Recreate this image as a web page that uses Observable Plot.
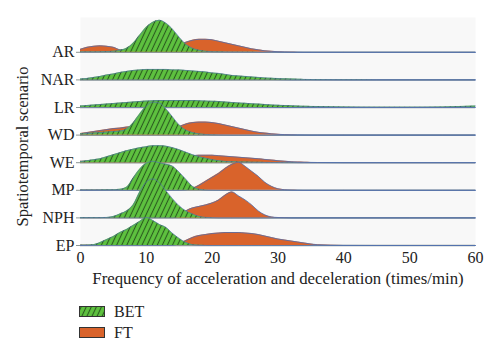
<!DOCTYPE html>
<html><head><meta charset="utf-8">
<script src="https://cdn.jsdelivr.net/npm/d3@7"></script>
<script src="https://cdn.jsdelivr.net/npm/@observablehq/plot@0.6"></script>
<style>
body{margin:0;background:#fff;font-family:"Liberation Serif",serif;}
#legend{margin-left:79px;padding-top:11px;font-size:16px;color:#222}
.item{display:flex;align-items:center;height:21px}
.item svg{margin-right:9px}
</style></head><body>
<div id="chart"></div>
<div id="legend"></div>
<script>
const scenarios = ["AR","NAR","LR","WD","WE","MP","NPH","EP"];
const seriesNames = ["BET","FT"];
const xTicks = [0,10,20,30,40,50,60];
const xTitle = "Frequency of acceleration and deceleration (times/min)";
const yTitle = "Spatiotemporal scenario";
// x sample points (times/min)
const xGrid = [0,1,2,3,4,5,6,7,8,9,10,11,12,13,14,15,16,17,18,19,20,21,22,23,24,25,26,27,28,29,30,31,32,33,34,35,36,40,45,50,55,60];

// Density estimates (relative units)
const betAR  = [0.5,0.5,0.5,0.6,0.8,1,2,4,9,17,25,30,32,29,23,15,8,4,2,1,0.6,0.5,0.4,0.3,0.3,0.2,0.2,0.1,0.1,0.1,0,0,0,0,0,0,0,0,0,0,0,0];
const ftAR   = [3,5,6,6.5,6,5,2.5,2,2,2,2,2,2.5,3,4.5,7,10,12,13,13,12.5,11,9.5,8,6.5,5,3.5,2.5,1.5,1,0.6,0.4,0.2,0.1,0,0,0,0,0,0,0,0];
const betNAR = [1,1.5,2.5,3.5,5,6,7.5,8.5,9.5,10,10.5,10.5,10.5,10.5,10,10,9.5,9,8.5,8,7,6.5,5.5,4.5,4,3.5,3,2.5,2,1.7,1.4,1.1,0.9,0.7,0.5,0.4,0.3,0.1,0,0,0,0];
const ftNAR  = [0.3,0.3,0.3,0.3,0.3,0.3,0.3,0.3,0.3,0.3,0.3,0.3,0.3,0.3,0.3,0.3,0.3,0.3,0.3,0.3,0.3,0.3,0.3,0.3,0.3,0.3,0.3,0.3,0.3,0.3,0.2,0.1,0,0,0,0,0,0,0,0,0,0];
const betLR  = [1.5,2,2.5,3,3.5,4,4.5,5,5.5,6,6.5,6.8,7,7,7,7,7,7,6.8,6.5,6.2,6,5.5,5,4.6,4.2,3.8,3.4,3,2.6,2.3,2,1.8,1.5,1.2,1.1,1,0.5,0.3,0.3,0.5,1.5];
const ftLR   = [0.5,0.5,0.5,0.5,0.5,0.5,0.5,0.5,0.5,0.5,0.5,0.5,0.5,0.5,0.5,0.5,0.5,0.5,0.5,0.5,0.5,0.5,0.5,0.5,0.5,0.5,0.5,0.4,0.3,0.2,0.1,0,0,0,0,0,0,0,0,0,0,0];
const betWD  = [1,1.5,2,2.5,3,3.5,4,6,12,21,29,33,32,26,18,10,5,2.5,1.2,0.6,0.3,0.2,0.1,0,0,0,0,0,0,0,0,0,0,0,0,0,0,0,0,0,0,0];
const ftWD   = [1.5,2.5,3.5,4.5,5.5,6.5,7,8,8.5,8,7,6,5,5,6,8.5,11,12.5,13,13,12.5,11.5,10,8.5,7,5.5,4,2.8,2,1.3,0.8,0.5,0.3,0.2,0.1,0,0,0,0,0,0,0];
const betWE  = [1,2,3,4,6,8,10,12,13.5,15,16,17,17,16.5,15,13,10.5,8,6,4.5,3,2,1.3,1,0.8,0.6,0.5,0.4,0.3,0.2,0.2,0.1,0.1,0,0,0,0,0,0,0,0,0];
const ftWE   = [1.5,1.5,1.5,1.5,1.5,1.5,1.5,1.5,1.5,1.5,1.5,1.5,1.5,3,4,5,6,7,7.5,7.5,7.5,7,6.5,6,5.5,5,4.5,4,3.3,2.7,2,1.5,1,0.7,0.5,0.3,0.2,0,0,0,0,0];
const betMP  = [0.3,0.3,0.3,0.4,0.5,0.6,1,3,12,21,27,29,27.5,26,24,18,11,4,1,0.3,0.1,0,0,0,0,0,0,0,0,0,0,0,0,0,0,0,0,0,0,0,0,0];
const ftMP   = [0.2,0.2,0.2,0.2,0.2,0.2,0.2,0.2,0.2,0.2,0.2,0.2,0.2,0.2,0.2,0.2,0.5,2,5,9,13,17,22,26,28,24,19,14,8,4,1.5,0.6,0.3,0.1,0,0,0,0,0,0,0,0];
const betNPH = [0.3,0.3,0.3,0.3,0.5,1.5,4,7,13,26,36,39,35,27,19,12,7,4,1.5,0.5,0.2,0,0,0,0,0,0,0,0,0,0,0,0,0,0,0,0,0,0,0,0,0];
const ftNPH  = [0.3,0.3,0.3,0.3,0.3,0.3,0.3,0.3,0.3,0.3,0.3,0.3,0.3,0.3,0.3,2,7,10,11.5,13,15,18,23,26,22,18,13,7,3,1,0.4,0.2,0,0,0,0,0,0,0,0,0,0];
const betEP  = [0.2,0.3,0.8,3,6,9,13,16,20,24,28,25,21,18,12,7,3,0.8,0.3,0.1,0,0,0,0,0,0,0,0,0,0,0,0,0,0,0,0,0,0,0,0,0,0];
const ftEP   = [0.3,0.3,0.3,0.3,0.3,0.3,0.3,0.3,0.3,0.3,0.3,0.3,0.3,0.3,0.3,2,5,8,10,11,12,12.5,13,13,13,12.5,12,11,9.5,8,6.5,5.5,4.5,3.5,2.5,1.5,0.8,0.1,0,0,0,0];

const betData = [betAR, betNAR, betLR, betWD, betWE, betMP, betNPH, betEP];
const ftData  = [ftAR, ftNAR, ftLR, ftWD, ftWE, ftMP, ftNPH, ftEP];

const GREEN = "#5ec23f", HATCH = "#2b5a20", ORANGE = "#d9632b", OUTLINE = "#4f6fae", BASE = "#8c9696";
const rowGap = 27.6;
const base = s => (scenarios.length - 1 - scenarios.indexOf(s)) * rowGap;
const tickName = new Map(scenarios.map(s => [base(s), s]));
const rowsOf = (s, arr) => xGrid.map((x, i) => ({scenario: s, x, v: arr[i]}));

const marks = [Plot.frame({fill: "#f8f8f8", stroke: null})];
scenarios.forEach((s, i) => {
  const b = base(s);
  const ft = rowsOf(s, ftData[i]);
  const bet = rowsOf(s, betData[i]);
  marks.push(
    Plot.ruleY([b], {x1: 0, x2: 60, stroke: BASE, strokeWidth: 1.6}),
    Plot.areaY(ft, {x: "x", y1: () => b, y2: d => b + d.v, fill: ORANGE, curve: "monotone-x"}),
    Plot.lineY(ft, {x: "x", y: d => b + d.v, stroke: OUTLINE, strokeWidth: 0.8, curve: "monotone-x"}),
    Plot.areaY(bet, {x: "x", y1: () => b, y2: d => b + d.v, fill: "url(#hatch)", curve: "monotone-x"}),
    Plot.lineY(bet, {x: "x", y: d => b + d.v, stroke: OUTLINE, strokeWidth: 0.8, strokeOpacity: 0.8, curve: "monotone-x"})
  );
});
marks.push(
  Plot.axisX({ticks: xTicks, tickSize: 0, tickPadding: 6, fontSize: 16, label: null}),
  Plot.text([xTitle], {text: d => d, frameAnchor: "bottom", textAnchor: "middle", lineAnchor: "middle", dy: 33, fontSize: 16.8, fill: "#222"}),
  Plot.axisY({ticks: scenarios.map(base), tickFormat: v => tickName.get(v), tickSize: 4, tickPadding: 2, stroke: BASE, fontSize: 16, label: null}),
  Plot.text([yTitle], {text: d => d, frameAnchor: "left", textAnchor: "middle", lineAnchor: "middle", rotate: -90, dx: -58, dy: 15, fontSize: 16.5, fill: "#222"})
);

const svg = Plot.plot({
  width: 500, height: 290,
  marginLeft: 80, marginRight: 25, marginTop: 17, marginBottom: 45,
  x: {domain: [0, 60]},
  y: {domain: [0, 228]},
  style: {fontFamily: "Liberation Serif, serif", fontSize: "16px", color: "#222", background: "#fff"},
  marks
});
const ns = "http://www.w3.org/2000/svg";
const defs = document.createElementNS(ns, "defs");
defs.innerHTML = `<pattern id="hatch" width="4.6" height="4.6" patternUnits="userSpaceOnUse" patternTransform="rotate(25)"><rect width="4.6" height="4.6" fill="${GREEN}"/><line x1="2.3" y1="0" x2="2.3" y2="4.6" stroke="${HATCH}" stroke-width="1.1"/></pattern>`;
svg.prepend(defs);
document.getElementById("chart").appendChild(svg);

const legend = document.getElementById("legend");
seriesNames.forEach((name, i) => {
  const item = document.createElement("div");
  item.className = "item";
  const fill = i === 0 ? "url(#hatchL)" : ORANGE;
  item.innerHTML = `<svg width="26" height="12">${i === 0 ? `<defs><pattern id="hatchL" width="4.6" height="4.6" patternUnits="userSpaceOnUse" patternTransform="rotate(25)"><rect width="4.6" height="4.6" fill="${GREEN}"/><line x1="2.3" y1="0" x2="2.3" y2="4.6" stroke="${HATCH}" stroke-width="1.1"/></pattern></defs>` : ""}<rect x="0.5" y="0.5" width="25" height="10" fill="${fill}" stroke="#333" stroke-width="1"/></svg><span>${name}</span>`;
  legend.appendChild(item);
});
</script></body></html>
